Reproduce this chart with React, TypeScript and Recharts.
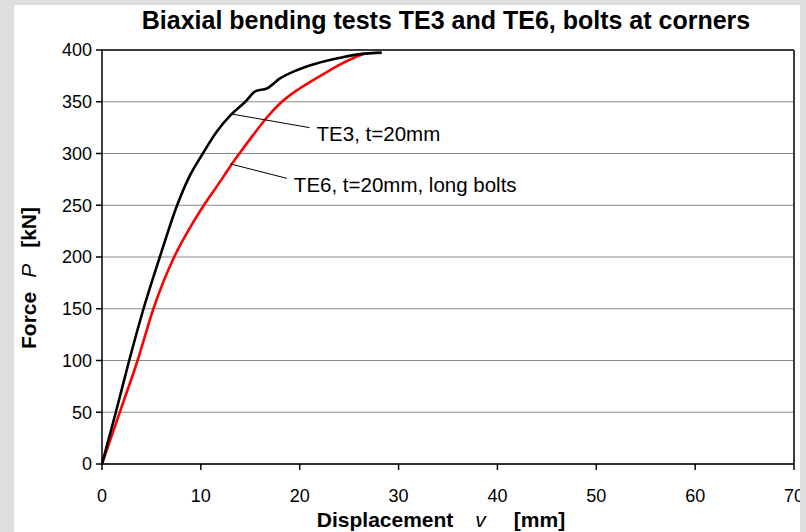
import React from "react";
import {
  CartesianGrid,
  Label,
  Line,
  LineChart,
  ReferenceDot,
  ReferenceLine,
  XAxis,
  YAxis,
} from "recharts";

// Load–displacement curves, biaxial bending tests (bolts at corners)
const te3Disp = [0, 0.7, 1.4, 2.75, 4.2, 5.85, 7.6, 8.75, 10.2, 11.6, 13.1, 14.5, 15.5, 16.7, 18.0, 19.7, 21.7, 24.1, 26.1, 28.3];
const te3Force = [0, 25, 50, 100, 150, 200, 250, 276, 300, 321, 338, 350, 360, 363, 372.5, 380.5, 387, 392.5, 396, 397.5];

const te6Disp = [0, 0.9, 1.8, 3.6, 5.2, 7.3, 8.7, 10.3, 12.1, 13.0, 13.9, 15.3, 16.7, 18.2, 19.7, 21.2, 22.7, 24.2, 25.6, 26.6];
const te6Force = [0, 25, 50, 100, 150, 200, 225, 250, 275, 288, 300, 318, 335, 350, 361, 370, 378.5, 386.5, 393, 396.5];

const xTicks = [0, 10, 20, 30, 40, 50, 60, 70];
const yTicks = [0, 50, 100, 150, 200, 250, 300, 350, 400];

// leader lines: from a point on the curve to the text
const callouts = [
  { text: "TE3, t=20mm", from: { x: 13.2, y: 338 }, to: { x: 21.0, y: 325 } },
  { text: "TE6, t=20mm, long bolts", from: { x: 12.95, y: 290 }, to: { x: 18.7, y: 276 } },
];

const FONT = "'Liberation Sans', Arial, sans-serif";

const toPoints = (xs: number[], ys: number[]) =>
  xs.map((v, i) => ({ v, P: ys[i] }));

function YTitle(props: any) {
  const { viewBox } = props;
  const cx = viewBox.x - 14;
  const cy = viewBox.y + viewBox.height / 2 + 21;
  return (
    <text
      transform={`translate(${cx},${cy}) rotate(-90)`}
      textAnchor="middle"
      dominantBaseline="central"
      fontFamily={FONT}
      fontSize={21}
      fontWeight="bold"
      fill="#000"
    >
      Force
      <tspan fontStyle="italic" fontWeight="normal" dx={14}>P</tspan>
      <tspan dx={16}>[kN]</tspan>
    </text>
  );
}

function XTitle(props: any) {
  const { viewBox } = props;
  const cx = viewBox.x + viewBox.width / 2 - 7;
  return (
    <text
      x={cx}
      y={viewBox.y + 63}
      textAnchor="middle"
      fontFamily={FONT}
      fontSize={21}
      fontWeight="bold"
      fill="#000"
    >
      Displacement
      <tspan fontStyle="italic" fontWeight="normal" dx={22}>v</tspan>
      <tspan dx={28}>[mm]</tspan>
    </text>
  );
}

export default function App() {
  const te3 = toPoints(te3Disp, te3Force);
  const te6 = toPoints(te6Disp, te6Force);
  const tick = { fill: "#000", fontSize: 18, fontFamily: FONT };

  return (
    <div
      style={{
        position: "absolute",
        left: 0,
        top: 0,
        width: 806,
        height: 532,
        background: "#dedede",
        overflow: "hidden",
      }}
    >
      <div
        style={{
          position: "absolute",
          left: 14,
          top: 5,
          width: 786,
          height: 527,
          background: "#fff",
        }}
      />
      <div style={{ position: "absolute", left: 0, top: 0 }}>
        <LineChart
          width={806}
          height={532}
          margin={{ top: 50, right: 12, left: 42, bottom: 38 }}
        >
          <text
            x={446}
            y={20}
            textAnchor="middle"
            dominantBaseline="central"
            fontFamily={FONT}
            fontSize={25}
            fontWeight="bold"
            fill="#000"
          >
            Biaxial bending tests TE3 and TE6, bolts at corners
          </text>
          <CartesianGrid vertical={false} stroke="#8a8a8a" strokeWidth={1.2} />
          <XAxis
            type="number"
            dataKey="v"
            domain={[0, 70]}
            ticks={xTicks}
            allowDuplicatedCategory={false}
            tick={tick}
            tickSize={6}
            tickMargin={19}
            height={30}
            stroke="#000"
            strokeWidth={1.5}
          >
            <Label content={<XTitle />} />
          </XAxis>
          <YAxis
            type="number"
            dataKey="P"
            domain={[0, 400]}
            ticks={yTicks}
            tick={tick}
            tickSize={6}
            tickMargin={4}
            width={60}
            stroke="#000"
            strokeWidth={1.5}
          >
            <Label content={<YTitle />} />
          </YAxis>
          <ReferenceLine y={400} stroke="#3c3c3c" strokeWidth={2} />
          <ReferenceLine x={70} stroke="#3c3c3c" strokeWidth={2} />
          <Line
            data={te6}
            dataKey="P"
            type="monotone"
            stroke="#ff0000"
            strokeWidth={2.6}
            dot={false}
            isAnimationActive={false}
          />
          <Line
            data={te3}
            dataKey="P"
            type="monotone"
            stroke="#000"
            strokeWidth={2.6}
            dot={false}
            isAnimationActive={false}
          />
          {callouts.map((c) => (
            <ReferenceLine
              key={c.text + "-leader"}
              segment={[c.from, c.to]}
              stroke="#000"
              strokeWidth={1}
            />
          ))}
          {callouts.map((c) => (
            <ReferenceDot
              key={c.text}
              x={c.to.x}
              y={c.to.y}
              r={0}
              fill="none"
              stroke="none"
              label={{
                value: c.text,
                position: "right",
                offset: 7,
                fill: "#000",
                fontSize: 20.5,
                fontFamily: FONT,
                dy: 6,
              }}
            />
          ))}
        </LineChart>
      </div>
      <div
        style={{
          position: "absolute",
          left: 800,
          top: 0,
          width: 6,
          height: 532,
          background: "#dedede",
        }}
      />
    </div>
  );
}
